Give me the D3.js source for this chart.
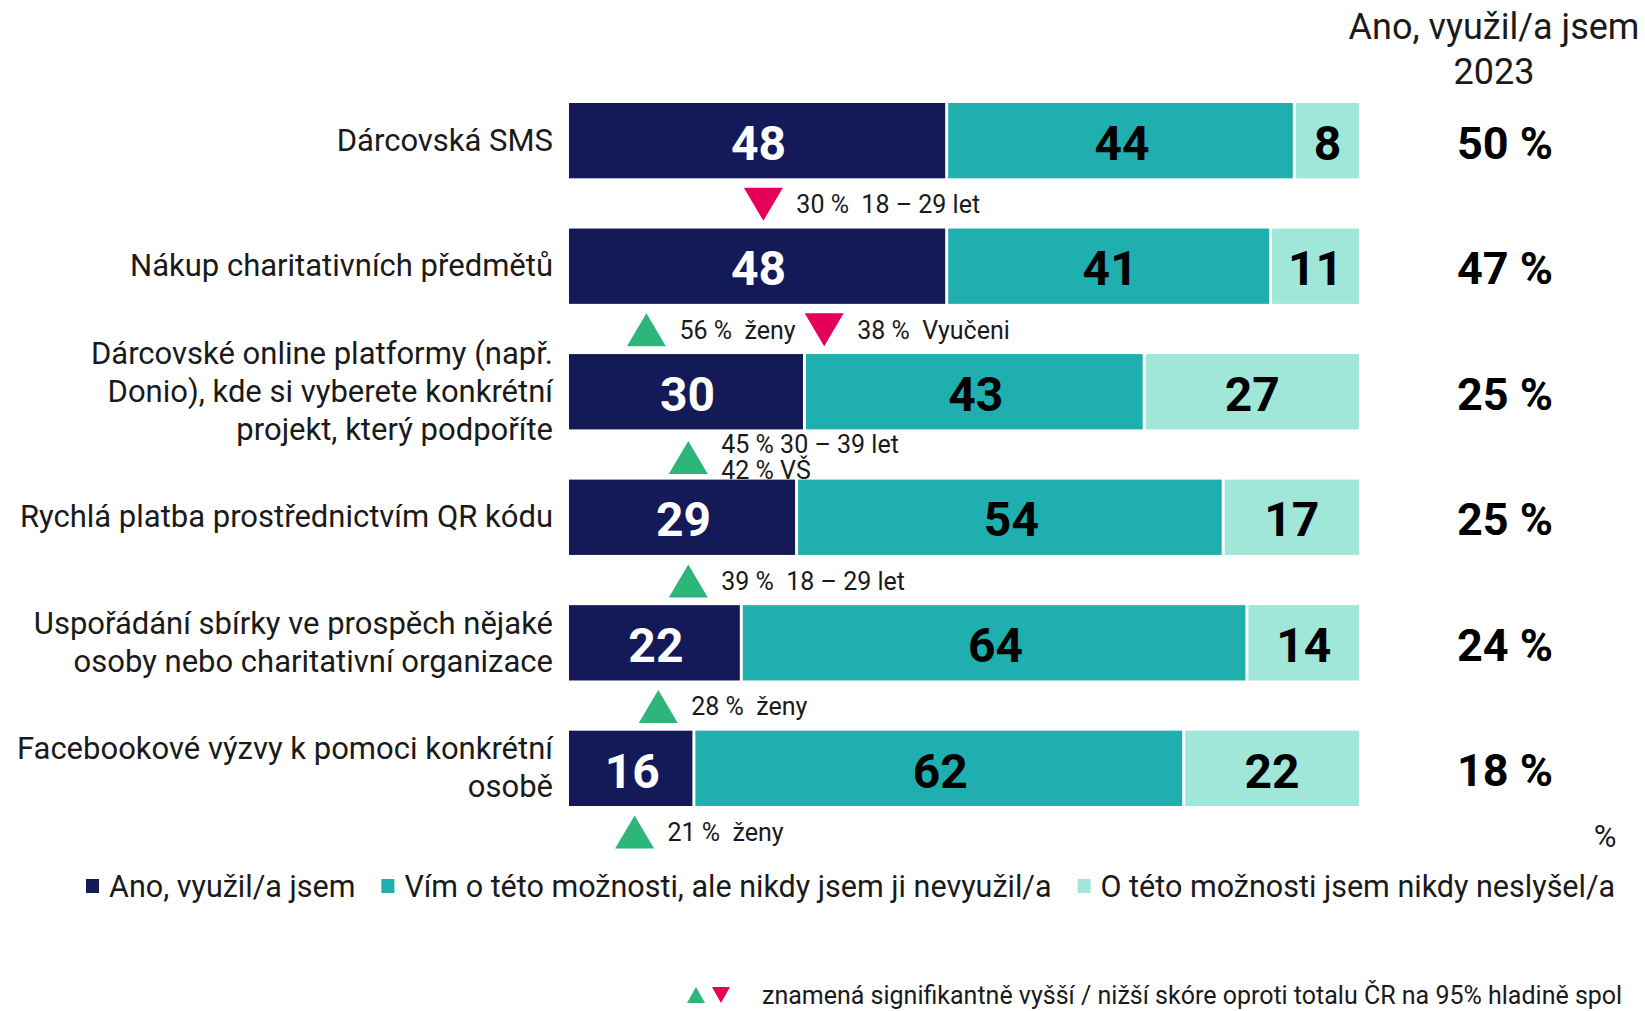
<!DOCTYPE html>
<html>
<head>
<meta charset="utf-8">
<script src="https://cdn.jsdelivr.net/npm/d3@7"></script>
<style>
  body { margin: 0; background: #fff; }
  svg { font-family: Roboto, "Liberation Sans", sans-serif; }
  .pre { white-space: pre; }
</style>
</head>
<body>
<svg width="1645" height="1011"></svg>
<script>
var categories = [
  ['Dárcovská SMS'],
  ['Nákup charitativních předmětů'],
  ['Dárcovské online platformy (např.', 'Donio), kde si vyberete konkrétní', 'projekt, který podpoříte'],
  ['Rychlá platba prostřednictvím QR kódu'],
  ['Uspořádání sbírky ve prospěch nějaké', 'osoby nebo charitativní organizace'],
  ['Facebookové výzvy k pomoci konkrétní', 'osobě']
];
var seriesNames = ['Ano, využil/a jsem', 'Vím o této možnosti, ale nikdy jsem ji nevyužil/a', 'O této možnosti jsem nikdy neslyšel/a'];
var used = [48, 48, 30, 29, 22, 16];
var known = [44, 41, 43, 54, 64, 62];
var neverHeard = [8, 11, 27, 17, 14, 22];
var used2023 = [50, 47, 25, 25, 24, 18];

// significance notes under each bar: at = position on the % axis
var notes = [
  [{up: false, at: 24.6, text: ['30 %  18 – 29 let']}],
  [{up: true, at: 9.8, text: ['56 %  ženy']}, {up: false, at: 32.3, text: ['38 %  Vyučeni']}],
  [{up: true, at: 15.1, text: ['45 % 30 – 39 let', '42 % VŠ']}],
  [{up: true, at: 15.1, text: ['39 %  18 – 29 let']}],
  [{up: true, at: 11.3, text: ['28 %  ženy']}],
  [{up: true, at: 8.3, text: ['21 %  ženy']}]
];

var colors = ['#141a57', '#1fafae', '#a0e6d9'];
var textColors = ['#fff', '#000', '#000'];
var green = '#2db57a', red = '#e5005a';

var svg = d3.select('svg');
var x = d3.scaleLinear().domain([0, 100]).range([569, 1359]);
var y = d3.scaleBand().domain(d3.range(categories.length)).range([103, 806]).paddingInner(0.4).paddingOuter(0);
var gap = 3;

var segs = [];
categories.forEach(function(c, i) {
  var vals = [used[i], known[i], neverHeard[i]];
  var start = 0;
  vals.forEach(function(v, k) {
    segs.push({row: i, k: k, v: v, x0: start, x1: start + v});
    start += v;
  });
});

svg.append('g').selectAll('rect').data(segs).enter().append('rect')
  .attr('x', function(d) { return x(d.x0); })
  .attr('y', function(d) { return y(d.row); })
  .attr('width', function(d) { return x(d.x1) - x(d.x0) - (d.k < 2 ? gap : 0); })
  .attr('height', y.bandwidth())
  .attr('fill', function(d) { return colors[d.k]; });

svg.append('g').selectAll('text').data(segs).enter().append('text')
  .attr('x', function(d) { return x((d.x0 + d.x1) / 2); })
  .attr('y', function(d) { return y(d.row) + y.bandwidth() / 2; })
  .attr('dy', '0.4em')
  .attr('text-anchor', 'middle')
  .attr('font-size', 48)
  .attr('font-weight', 'bold')
  .attr('fill', function(d) { return textColors[d.k]; })
  .text(function(d) { return d.v; });

// category labels
var lineH = 38;
svg.append('g').selectAll('text').data(categories).enter().append('text')
  .attr('text-anchor', 'end')
  .attr('font-size', 31)
  .attr('fill', '#1a1a1a')
  .each(function(lines, i) {
    var cy = y(i) + y.bandwidth() / 2 - 1;
    var top = cy - (lines.length - 1) * lineH / 2;
    d3.select(this).selectAll('tspan').data(lines).enter().append('tspan')
      .attr('x', 553)
      .attr('y', function(l, j) { return top + j * lineH; })
      .attr('dy', '0.36em')
      .text(function(l) { return l; });
  });

// right column
svg.append('text').attr('x', 1494).attr('y', 26).attr('dy', '0.36em')
  .attr('text-anchor', 'middle').attr('font-size', 36).attr('fill', '#1a1a1a')
  .text(seriesNames[0]);
svg.append('text').attr('x', 1494).attr('y', 71).attr('dy', '0.36em')
  .attr('text-anchor', 'middle').attr('font-size', 36).attr('fill', '#1a1a1a')
  .text('2023');
svg.append('g').selectAll('text').data(used2023).enter().append('text')
  .attr('x', 1505)
  .attr('y', function(d, i) { return y(i) + y.bandwidth() / 2; })
  .attr('dy', '0.4em')
  .attr('text-anchor', 'middle')
  .attr('font-size', 45)
  .attr('font-weight', 'bold')
  .attr('fill', '#000')
  .text(function(d) { return d + ' %'; });

// significance notes
function tri(cx, cy, w, h, up) {
  return up
    ? 'M' + (cx - w / 2) + ',' + (cy + h / 2) + 'L' + (cx + w / 2) + ',' + (cy + h / 2) + 'L' + cx + ',' + (cy - h / 2) + 'Z'
    : 'M' + (cx - w / 2) + ',' + (cy - h / 2) + 'L' + (cx + w / 2) + ',' + (cy - h / 2) + 'L' + cx + ',' + (cy + h / 2) + 'Z';
}
var noteG = svg.append('g');
notes.forEach(function(list, i) {
  var base = y(i) + y.bandwidth();
  list.forEach(function(n) {
    var cx = x(n.at);
    var cy = n.text.length > 1 ? base + 28 : base + 26;
    noteG.append('path').attr('d', tri(cx, cy, 39, 33, n.up)).attr('fill', n.up ? green : red);
    n.text.forEach(function(t, j) {
      var ty = n.text.length > 1 ? base + 15 + j * 26 : base + 26;
      noteG.append('text').attr('class', 'pre').attr('x', cx + 33).attr('y', ty).attr('dy', '0.36em')
        .attr('font-size', 25).attr('fill', '#1a1a1a').text(t);
    });
  });
});

svg.append('text').attr('x', 1605).attr('y', 836).attr('dy', '0.36em')
  .attr('text-anchor', 'middle').attr('font-size', 31).attr('fill', '#1a1a1a').text('%');

// legend
var lg = svg.append('g');
var lx = 86;
seriesNames.forEach(function(name, k) {
  lg.append('rect').attr('x', lx).attr('y', 879).attr('width', 13).attr('height', 14).attr('fill', colors[k]);
  var t = lg.append('text').attr('x', lx + 23).attr('y', 886).attr('dy', '0.36em')
    .attr('font-size', 30.5).attr('fill', '#1a1a1a').text(name);
  lx += 23 + t.node().getComputedTextLength() + 26;
});

// footnote (cut at the right edge in the source, as shown)
svg.append('path').attr('d', tri(696, 995, 18, 16, true)).attr('fill', green);
svg.append('path').attr('d', tri(721, 995, 18, 16, false)).attr('fill', red);
svg.append('text').attr('x', 762).attr('y', 995).attr('dy', '0.36em')
  .attr('font-size', 25).attr('fill', '#1a1a1a')
  .text('znamená signifikantně vyšší / nižší skóre oproti totalu ČR na 95% hladině spol');
</script>
</body>
</html>
